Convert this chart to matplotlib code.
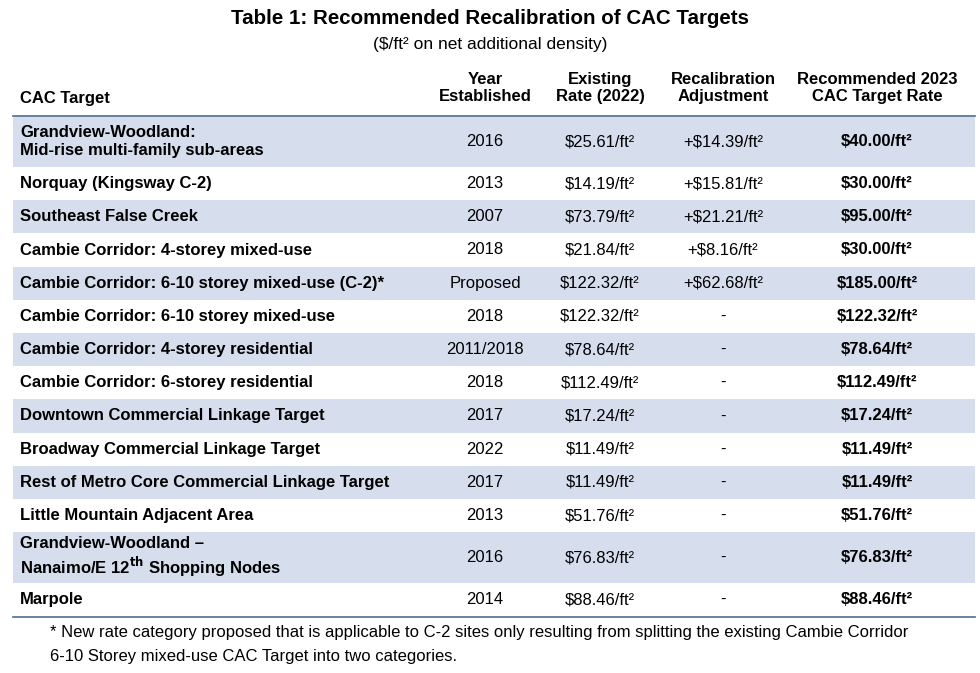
import matplotlib
matplotlib.use("Agg")
import matplotlib.pyplot as plt
from matplotlib.patches import Rectangle

targets = ["Grandview-Woodland:\nMid-rise multi-family sub-areas", "Norquay (Kingsway C-2)",
           "Southeast False Creek", "Cambie Corridor: 4-storey mixed-use",
           "Cambie Corridor: 6-10 storey mixed-use (C-2)*", "Cambie Corridor: 6-10 storey mixed-use",
           "Cambie Corridor: 4-storey residential", "Cambie Corridor: 6-storey residential",
           "Downtown Commercial Linkage Target", "Broadway Commercial Linkage Target",
           "Rest of Metro Core Commercial Linkage Target", "Little Mountain Adjacent Area",
           "Grandview-Woodland \u2013\nNanaimo/E 12$^{\\mathbf{th}}$ Shopping Nodes", "Marpole"]
years = ["2016", "2013", "2007", "2018", "Proposed", "2018", "2011/2018", "2018", "2017", "2022",
         "2017", "2013", "2016", "2014"]
existing = [25.61, 14.19, 73.79, 21.84, 122.32, 122.32, 78.64, 112.49, 17.24, 11.49, 11.49, 51.76, 76.83, 88.46]
adjust = [14.39, 15.81, 21.21, 8.16, 62.68, None, None, None, None, None, None, None, None, None]
recommended = [40.00, 30.00, 95.00, 30.00, 185.00, 122.32, 78.64, 112.49, 17.24, 11.49, 11.49, 51.76, 76.83, 88.46]

W, H = 980, 673
fig = plt.figure(figsize=(W/100, H/100), dpi=100)
ax = fig.add_axes([0, 0, 1, 1])
ax.set_xlim(0, W); ax.set_ylim(H, 0); ax.axis("off")
FF = "Liberation Sans"
FS = 12
shade = "#d6deee"
line = "#5a7a9a"

ax.text(490, 18, "Table 1: Recommended Recalibration of CAC Targets", ha="center", va="center",
        fontsize=14.8, fontweight="bold", family=FF)
ax.text(490, 44, "($/ft\u00b2 on net additional density)", ha="center", va="center", fontsize=12.5, family=FF)

cols = [485, 600, 723, 877]
hdrs = ["Year\nEstablished", "Existing\nRate (2022)", "Recalibration\nAdjustment", "Recommended 2023\nCAC Target Rate"]
ax.text(20, 98, "CAC Target", ha="left", va="center", fontsize=FS, fontweight="bold", family=FF)
for c, h in zip(cols, hdrs):
    ax.text(c, 88, h, ha="center", va="center", fontsize=FS, fontweight="bold", family=FF, linespacing=1.15)
ax.plot([13, 975], [115.5, 115.5], color=line, lw=1.3)

y = 116
for i, t in enumerate(targets):
    h = 51 if "\n" in t else 33.2
    if i % 2 == 0:
        ax.add_patch(Rectangle((13, y), 962, h, color=shade, lw=0))
    cy = y + h/2
    ax.text(20, cy, t, ha="left", va="center", fontsize=FS, fontweight="bold", family=FF, linespacing=1.2)
    ax.text(cols[0], cy, years[i], ha="center", va="center", fontsize=FS, family=FF)
    ax.text(cols[1], cy, f"${existing[i]:.2f}/ft\u00b2", ha="center", va="center", fontsize=FS, family=FF)
    a = adjust[i]
    ax.text(cols[2], cy, "-" if a is None else f"+${a:.2f}/ft\u00b2", ha="center", va="center", fontsize=FS, family=FF)
    ax.text(cols[3], cy, f"${recommended[i]:.2f}/ft\u00b2", ha="center", va="center",
            fontsize=FS, fontweight="bold", family=FF)
    y += h
ax.plot([13, 975], [y + 0.5, y + 0.5], color=line, lw=1.3)

ax.text(50, 633, "* New rate category proposed that is applicable to C-2 sites only resulting from splitting the existing Cambie Corridor",
        ha="left", va="center", fontsize=FS, family=FF)
ax.text(50, 657, "6-10 Storey mixed-use CAC Target into two categories.", ha="left", va="center", fontsize=FS, family=FF)

fig.savefig("out.png", dpi=100)
